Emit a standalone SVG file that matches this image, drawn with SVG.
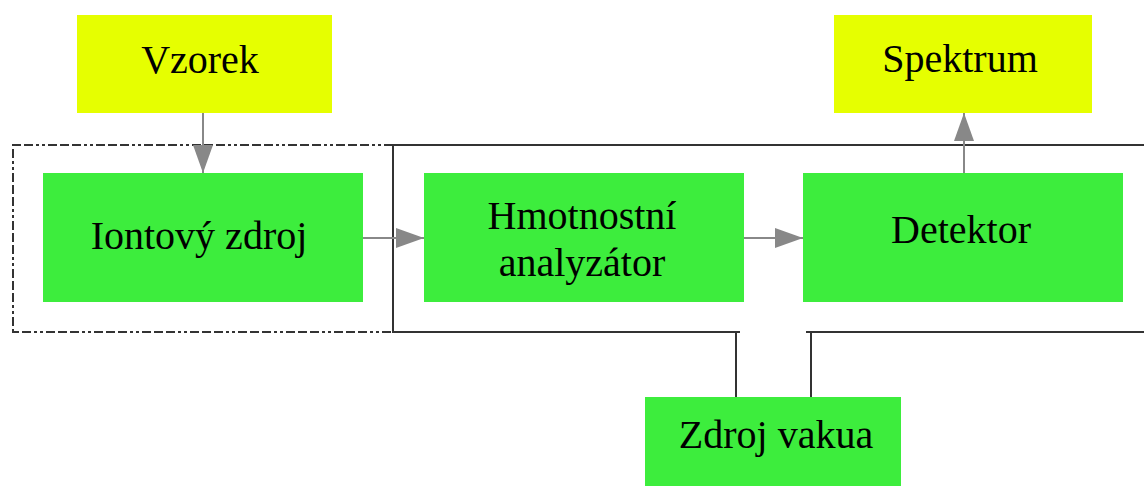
<svg xmlns="http://www.w3.org/2000/svg" width="1144" height="486" viewBox="0 0 1144 486">
<style>
.y{fill:#e6ff00}
.g{fill:#3ded3d}
.t{font-family:"Liberation Serif","Times New Roman",serif;font-size:40px;fill:#000;text-anchor:middle}
.frame{fill:none;stroke:#333;stroke-width:2}
.dash{stroke-dasharray:9 3 3 3 3 3 9 3 9 3}
.c{stroke:#888;stroke-width:2;fill:none}
</style>
<defs>
<marker id="ah" markerUnits="userSpaceOnUse" markerWidth="30" markerHeight="22" refX="28" refY="11" orient="auto">
<path d="M0,1 L28,11 L0,21 Z" fill="#888"/>
</marker>
</defs>
<rect width="1144" height="486" fill="#fff"/>
<g id="frames">
<path class="frame dash" d="M393,145 H13 V332 H393"/>
<path class="frame" d="M1144,145 H393 V332 H740 M806,332 H1144"/>
</g>
<g id="vzorek"><rect class="y" x="77" y="15" width="255" height="98"/><text class="t" x="200" y="73">Vzorek</text></g>
<g id="spektrum"><rect class="y" x="834" y="15" width="258" height="98"/><text class="t" x="960" y="72">Spektrum</text></g>
<g id="iontovy"><rect class="g" x="43" y="173" width="320" height="129"/><text class="t" x="199" y="249">Iontový zdroj</text></g>
<g id="hmotnostni"><rect class="g" x="424" y="173" width="320" height="129"/><text class="t" x="582" y="229">Hmotnostní</text><text class="t" x="582" y="276">analyzátor</text></g>
<g id="detektor"><rect class="g" x="803" y="173" width="320" height="129"/><text class="t" x="961" y="243">Detektor</text></g>
<g id="vakuum"><rect class="g" x="645" y="397" width="256" height="89"/><text class="t" x="776" y="448">Zdroj vakua</text></g>
<g id="connectors">
<line class="c" x1="203" y1="113" x2="203" y2="173" marker-end="url(#ah)"/>
<line class="c" x1="363" y1="238" x2="424" y2="238" marker-end="url(#ah)"/>
<line class="c" x1="744" y1="238" x2="803" y2="238" marker-end="url(#ah)"/>
<line class="c" x1="964" y1="173" x2="964" y2="113" marker-end="url(#ah)"/>
<line class="frame" x1="736" y1="332" x2="736" y2="397"/>
<line class="frame" x1="811" y1="332" x2="811" y2="397"/>
</g>
</svg>
